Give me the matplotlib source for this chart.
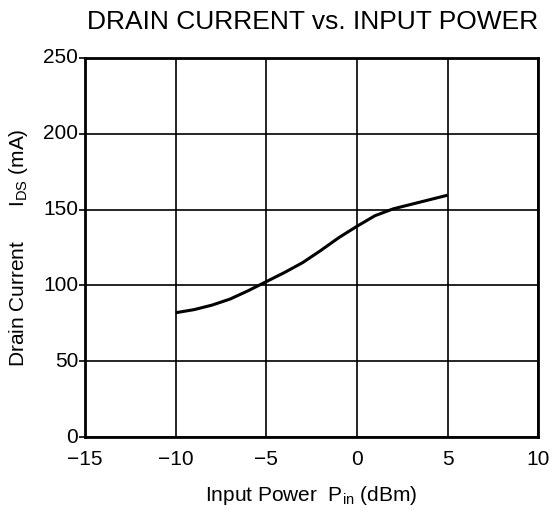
import matplotlib
matplotlib.use("Agg")
import matplotlib.pyplot as plt

plt.rcParams['font.family'] = ['Liberation Sans', 'DejaVu Sans']
plt.rcParams['mathtext.fontset'] = 'custom'
plt.rcParams['mathtext.rm'] = 'Liberation Sans'
plt.rcParams['mathtext.it'] = 'Liberation Sans'

pin_dbm = [-10, -9, -8, -7, -6, -5, -4, -3, -2, -1, 0, 1, 2, 3, 4, 5]
ids_ma = [82, 84, 87, 91, 96.5, 102.5, 108.5, 115, 123, 131.5, 139, 146, 150.5, 153.5, 156.5, 159.5]

x_ticks = [-15, -10, -5, 0, 5, 10]
y_ticks = [0, 50, 100, 150, 200, 250]

fig = plt.figure(figsize=(5.52, 5.13), dpi=100)
ax = fig.add_axes([0.154, 0.148, 0.821, 0.739])

ax.plot(pin_dbm, ids_ma, color='black', lw=2.2, solid_capstyle='butt')
ax.set_xlim(-15, 10)
ax.set_ylim(0, 250)
ax.set_xticks(x_ticks)
ax.set_yticks(y_ticks)
ax.grid(True, color='black', lw=1.2)
for s in ax.spines.values():
    s.set_linewidth(2)
ax.tick_params(axis='y', direction='out', length=4, width=1.2, labelsize=15, pad=1)
ax.tick_params(axis='x', direction='out', length=0, labelsize=15, pad=9)
for lbl in ax.get_yticklabels():
    lbl.set_va('center')

fig.text(0.975, 0.958, "DRAIN CURRENT vs. INPUT POWER", ha='right', va='center', fontsize=19)
ax.set_xlabel(r"Input Power  P$\mathregular{_{in}}$ (dBm)", fontsize=15, labelpad=11)
ax.set_ylabel(r"Drain Current      I$\mathregular{_{DS}}$ (mA)", fontsize=15, labelpad=9)

fig.savefig("out.png", dpi=100)
